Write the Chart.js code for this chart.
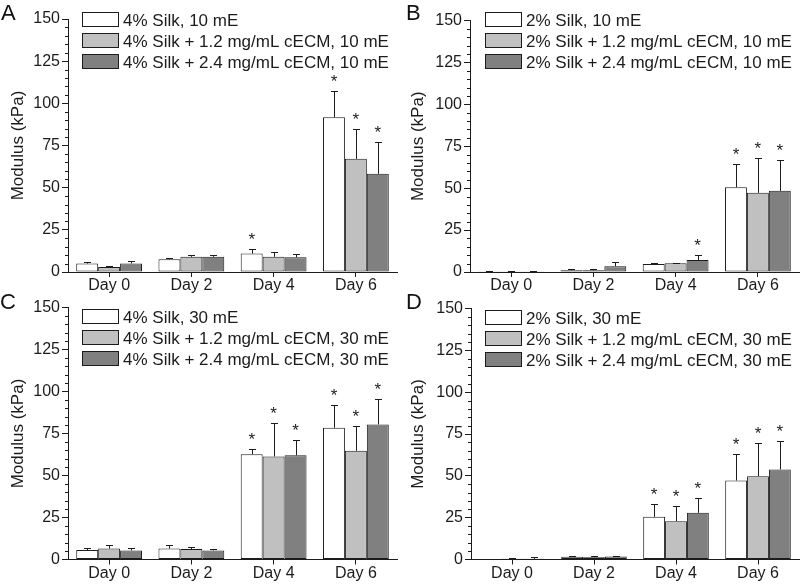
<!DOCTYPE html>
<html>
<head>
<meta charset="utf-8">
<script src="https://cdn.jsdelivr.net/npm/chart.js@4.4.1/dist/chart.umd.min.js"></script>
<style>
html, body { margin: 0; padding: 0; background: #ffffff; }
#wrap { position: relative; width: 800px; height: 584px; overflow: hidden; background: #ffffff; }
.panel { position: absolute; }
.lab { position: absolute; font-family: 'Liberation Sans', Arial, sans-serif; font-size: 22px; line-height: 22px; color: #111; }
</style>
</head>
<body>
<div id="wrap">
  <canvas id="cA" class="panel" width="400" height="300" style="left:0px;top:0px"></canvas>
  <canvas id="cB" class="panel" width="400" height="300" style="left:400px;top:0px"></canvas>
  <canvas id="cC" class="panel" width="400" height="294" style="left:0px;top:290px"></canvas>
  <canvas id="cD" class="panel" width="400" height="294" style="left:400px;top:290px"></canvas>
  <div class="lab" style="left:1px;top:2px">A</div>
  <div class="lab" style="left:406px;top:2px">B</div>
  <div class="lab" style="left:0px;top:291px">C</div>
  <div class="lab" style="left:406px;top:291px">D</div>
</div>
<script>
// ---------------- data ----------------
const categories = ['Day 0', 'Day 2', 'Day 4', 'Day 6'];
const yTicks = [0, 25, 50, 75, 100, 125, 150];
const yTitle = 'Modulus (kPa)';

// Panel A: 4% silk, 10 mE
const A_labels = ['4% Silk, 10 mE', '4% Silk + 1.2 mg/mL cECM, 10 mE', '4% Silk + 2.4 mg/mL cECM, 10 mE'];
const A_silk = [5.0, 7.5, 10.9, 91.7];
const A_silk_err = [1.0, 1.0, 2.6, 15.6];
const A_silk_sig = [false, false, true, true];
const A_ecm12 = [3.0, 9.0, 9.0, 67.1];
const A_ecm12_err = [0.6, 1.0, 3.0, 17.5];
const A_ecm12_sig = [false, false, false, true];
const A_ecm24 = [5.1, 9.0, 8.7, 58.2];
const A_ecm24_err = [1.4, 1.0, 1.8, 19.0];
const A_ecm24_sig = [false, false, false, true];

// Panel B: 2% silk, 10 mE
const B_labels = ['2% Silk, 10 mE', '2% Silk + 1.2 mg/mL cECM, 10 mE', '2% Silk + 2.4 mg/mL cECM, 10 mE'];
const B_silk = [0.5, 1.0, 4.8, 50.6];
const B_silk_err = [0.2, 1.0, 0.4, 13.7];
const B_silk_sig = [false, false, false, true];
const B_ecm12 = [0.5, 1.0, 5.2, 47.2];
const B_ecm12_err = [0.2, 0.6, 0.4, 20.5];
const B_ecm12_sig = [false, false, false, true];
const B_ecm24 = [0.4, 3.4, 7.2, 48.4];
const B_ecm24_err = [0.2, 2.6, 3.2, 18.3];
const B_ecm24_sig = [false, false, true, true];

// Panel C: 4% silk, 30 mE
const C_labels = ['4% Silk, 30 mE', '4% Silk + 1.2 mg/mL cECM, 30 mE', '4% Silk + 2.4 mg/mL cECM, 30 mE'];
const C_silk = [5.6, 6.5, 62.7, 78.4];
const C_silk_err = [1.1, 2.4, 3.2, 13.3];
const C_silk_sig = [false, false, true, true];
const C_ecm12 = [6.5, 6.2, 61.3, 64.7];
const C_ecm12_err = [2.0, 1.5, 20.0, 14.9];
const C_ecm12_sig = [false, false, true, true];
const C_ecm24 = [5.4, 5.4, 62.1, 80.4];
const C_ecm24_err = [1.5, 0.9, 8.9, 15.2];
const C_ecm24_sig = [false, false, true, true];

// Panel D: 2% silk, 30 mE
const D_labels = ['2% Silk, 30 mE', '2% Silk + 1.2 mg/mL cECM, 30 mE', '2% Silk + 2.4 mg/mL cECM, 30 mE'];
const D_silk = [0.3, 1.6, 25.5, 47.2];
const D_silk_err = [0.2, 0.4, 7.4, 16.1];
const D_silk_sig = [false, false, true, true];
const D_ecm12 = [0.5, 1.4, 22.9, 49.8];
const D_ecm12_err = [0.2, 0.4, 9.0, 19.9];
const D_ecm12_sig = [false, false, true, true];
const D_ecm24 = [0.4, 1.8, 27.9, 53.8];
const D_ecm24_err = [1.0, 0.3, 8.6, 17.1];
const D_ecm24_sig = [false, false, true, true];

// ---------------- styles / layout ----------------
const FONT = "'Liberation Sans', Arial, sans-serif";
const INK = '#1c1c1c';
const FILLS = ['#ffffff', '#c0c0c0', '#808080'];

const layouts = {
  A: { left: 68, top: 19, right: 397, bottom: 272, h: 300, legendX: 13.7, legendY: 11.7 },
  B: { left: 70, top: 20.5, right: 399, bottom: 272, h: 300, legendX: 15, legendY: 12.3 },
  C: { left: 68, top: 17.5, right: 397, bottom: 269.5, h: 294, legendX: 13.7, legendY: 19 },
  D: { left: 71, top: 18.5, right: 399, bottom: 269.5, h: 294, legendX: 14, legendY: 20 }
};

const decoPlugin = {
  id: 'deco',
  afterDatasetsDraw(chart) {
    const ctx = chart.ctx, ys = chart.scales.y;
    ctx.save();
    ctx.strokeStyle = INK; ctx.fillStyle = INK; ctx.lineWidth = 1;
    ctx.font = '17px ' + FONT; ctx.textAlign = 'center'; ctx.textBaseline = 'alphabetic';
    chart.data.datasets.forEach((ds, i) => {
      chart.getDatasetMeta(i).data.forEach((bar, j) => {
        const top = ys.getPixelForValue(ds.data[j] + ds.errors[j]);
        const x = Math.round(bar.x) + 0.5;
        const yt = Math.round(top) + 0.5;
        ctx.beginPath();
        ctx.moveTo(x, bar.y); ctx.lineTo(x, yt);
        ctx.moveTo(x - 3.5, yt); ctx.lineTo(x + 3.5, yt);
        ctx.stroke();
        if (ds.sig[j]) ctx.fillText('*', bar.x, top - 4);
      });
    });
    ctx.restore();
  },
  afterDraw(chart) {
    const ctx = chart.ctx, ys = chart.scales.y, a = chart.chartArea;
    const P = chart.options.plugins.deco;
    ctx.save();
    ctx.strokeStyle = INK; ctx.lineWidth = 1;
    // minor ticks on y axis (every 5 between major ticks)
    for (let k = 0; k < yTicks.length - 1; k++) {
      for (let v = yTicks[k] + 5; v < yTicks[k + 1]; v += 5) {
        const y = Math.round(ys.getPixelForValue(v)) + 0.5;
        ctx.beginPath(); ctx.moveTo(a.left - 3, y); ctx.lineTo(a.left, y); ctx.stroke();
      }
    }
    // legend
    ctx.font = '17px ' + FONT; ctx.textAlign = 'left'; ctx.textBaseline = 'middle';
    chart.data.datasets.forEach((ds, i) => {
      const bx = Math.round(a.left + P.legendX) + 0.5;
      const by = Math.round(P.legendY + i * 21) + 0.5;
      ctx.fillStyle = ds.backgroundColor;
      ctx.fillRect(bx, by, 36, 14);
      ctx.strokeStyle = INK;
      ctx.strokeRect(bx, by, 36, 14);
      ctx.fillStyle = INK;
      ctx.fillText(ds.label, bx + 40.5, by + 9);
    });
    ctx.restore();
  }
};

function buildPanel(id, P, series) {
  new Chart(document.getElementById(id), {
    type: 'bar',
    data: {
      labels: categories,
      datasets: series.map((s, i) => ({
        label: s.label, data: s.values, errors: s.errors, sig: s.sig,
        backgroundColor: FILLS[i], borderColor: INK, borderWidth: 1, borderSkipped: false,
        categoryPercentage: 0.8, barPercentage: 1.0
      }))
    },
    options: {
      responsive: false, devicePixelRatio: 1, animation: false,
      layout: { padding: { left: 0, top: P.top, right: 400 - P.right, bottom: 0 } },
      plugins: { legend: { display: false }, tooltip: { enabled: false }, deco: P },
      scales: {
        x: {
          type: 'category', offset: true,
          grid: { display: true, drawOnChartArea: false, offset: false, tickLength: 5, color: INK, lineWidth: 1 },
          border: { display: true, color: INK, width: 1 },
          ticks: { color: INK, font: { family: FONT, size: 16, lineHeight: 1 }, padding: 1, maxRotation: 0 },
          afterFit: (s) => { s.height = P.h - P.bottom; }
        },
        y: {
          min: 0, max: 150,
          afterBuildTicks: (s) => { s.ticks = yTicks.map(v => ({ value: v })); },
          grid: { display: true, drawOnChartArea: false, tickLength: 6, color: INK, lineWidth: 1 },
          border: { display: true, color: INK, width: 1 },
          ticks: { color: INK, font: { family: FONT, size: 16 }, padding: 2 },
          title: { display: true, text: yTitle, color: INK, font: { family: FONT, size: 17 }, padding: { top: 8, bottom: 0 } },
          afterFit: (s) => { s.width = P.left; }
        }
      }
    },
    plugins: [decoPlugin]
  });
}

buildPanel('cA', layouts.A, [
  { label: A_labels[0], values: A_silk, errors: A_silk_err, sig: A_silk_sig },
  { label: A_labels[1], values: A_ecm12, errors: A_ecm12_err, sig: A_ecm12_sig },
  { label: A_labels[2], values: A_ecm24, errors: A_ecm24_err, sig: A_ecm24_sig }
]);
buildPanel('cB', layouts.B, [
  { label: B_labels[0], values: B_silk, errors: B_silk_err, sig: B_silk_sig },
  { label: B_labels[1], values: B_ecm12, errors: B_ecm12_err, sig: B_ecm12_sig },
  { label: B_labels[2], values: B_ecm24, errors: B_ecm24_err, sig: B_ecm24_sig }
]);
buildPanel('cC', layouts.C, [
  { label: C_labels[0], values: C_silk, errors: C_silk_err, sig: C_silk_sig },
  { label: C_labels[1], values: C_ecm12, errors: C_ecm12_err, sig: C_ecm12_sig },
  { label: C_labels[2], values: C_ecm24, errors: C_ecm24_err, sig: C_ecm24_sig }
]);
buildPanel('cD', layouts.D, [
  { label: D_labels[0], values: D_silk, errors: D_silk_err, sig: D_silk_sig },
  { label: D_labels[1], values: D_ecm12, errors: D_ecm12_err, sig: D_ecm12_sig },
  { label: D_labels[2], values: D_ecm24, errors: D_ecm24_err, sig: D_ecm24_sig }
]);
</script>
</body>
</html>
